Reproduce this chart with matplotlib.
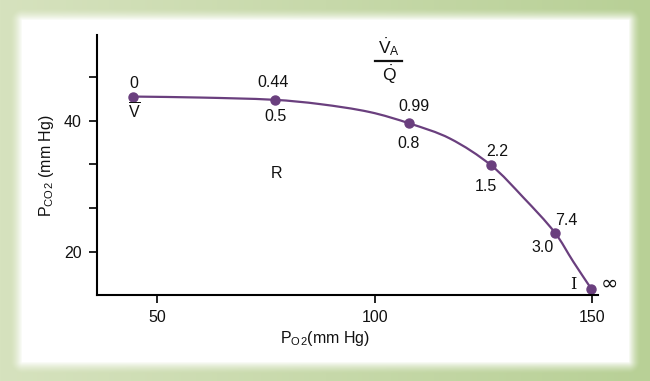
import numpy as np
import matplotlib
matplotlib.use("Agg")
import matplotlib.pyplot as plt
from matplotlib.path import Path
from matplotlib.patches import PathPatch

plt.rcParams['font.family'] = ['Liberation Sans', 'DejaVu Sans']
plt.rcParams['mathtext.fontset'] = 'custom'
plt.rcParams['mathtext.rm'] = 'Liberation Sans'
plt.rcParams['mathtext.it'] = 'Liberation Sans'

# points marqués sur la courbe (PO2, PCO2 en mm Hg)
po2 = [44.4, 77.0, 108.0, 126.8, 141.5, 149.9]
pco2 = [43.7, 43.2, 39.6, 33.2, 22.9, 14.3]
vaq_labels = ["0", "0.44", "0.99", "2.2", "7.4", "\u221e"]
r_labels = [r"$\overline{\mathrm{V}}$", "0.5", "0.8", "1.5", "3.0", "I"]

# trace de la courbe
curve_po2 = [44.4, 59.8, 77.0, 87.4, 98.9, 108.0, 117.3, 126.8, 134.2, 141.5, 145.7, 149.9]
curve_pco2 = [43.7, 43.55, 43.2, 42.55, 41.33, 39.6, 37.3, 33.2, 28.3, 22.9, 18.5, 14.3]

purple = "#6a3f7e"
ink = "#111111"

W, H = 650, 381
fig = plt.figure(figsize=(W / 100, H / 100), dpi=100)

# fond : cadre vert en dégradé + panneau blanc
bg = fig.add_axes([0, 0, 1, 1])
yy, xx = np.mgrid[0:H, 0:W]
t = xx / W
green = np.zeros((H, W, 3))
green[..., 0] = 214 - 30 * t
green[..., 1] = 226 - 18 * t
green[..., 2] = 190 - 40 * t
green /= 255
x0, x1, y0, y1 = 22, 628, 20, 361
dx = np.maximum(np.maximum(x0 - xx, xx - x1), 0)
dy = np.maximum(np.maximum(y0 - yy, yy - y1), 0)
d = np.sqrt(dx ** 2 + dy ** 2)
a = np.clip(1 - d / 12, 0, 1)[..., None] ** 1.5
img = a * 1.0 + (1 - a) * green
bg.imshow(img, aspect='auto', extent=[0, W, H, 0])
bg.set_axis_off()

ax = fig.add_axes([97 / W, 1 - 295 / H, 501 / W, 260 / H])
ax.patch.set_alpha(0)
ax.set_xlim(36.1, 151.4)
ax.set_ylim(13.4, 53.1)

# courbe lissée (Bezier) passant par les points lus
k = 1.5  # rapport d'échelle y/x à l'écran
P = np.column_stack([curve_po2, np.array(curve_pco2) * k])
n = len(P)
tang = np.zeros_like(P)
for i in range(n):
    v = P[min(i + 1, n - 1)] - P[max(i - 1, 0)]
    tang[i] = v / np.linalg.norm(v)
verts = [tuple(P[0])]
codes = [Path.MOVETO]
for i in range(n - 1):
    L = np.linalg.norm(P[i + 1] - P[i]) / 3
    verts += [tuple(P[i] + tang[i] * L), tuple(P[i + 1] - tang[i + 1] * L), tuple(P[i + 1])]
    codes += [Path.CURVE4] * 3
verts = [(vx, vy / k) for vx, vy in verts]
ax.add_patch(PathPatch(Path(verts, codes), fill=False, edgecolor=purple, lw=1.6))
ax.plot(po2, pco2, 'o', color=purple, ms=6.5)

ax.spines['top'].set_visible(False)
ax.spines['right'].set_visible(False)
ax.spines['left'].set_linewidth(1.5)
ax.spines['bottom'].set_linewidth(1.5)
ax.set_xticks([50, 100, 150])
ax.set_yticks([20, 80 / 3, 100 / 3, 40, 140 / 3])
ax.set_yticklabels(["20", "", "", "40", ""])
ax.tick_params(direction='out', length=6, width=1.3, labelsize=11.5, colors=ink, pad=5)

# étiquettes des points
top_off = [(1, 13), (-2, 17), (5, 17), (6, 14), (11, 12), (18, 5)]
bot_off = [(1, -15), (1, -17), (-1, -20), (-5, -21), (-12, -15), (-18, 5)]
for i in range(len(po2)):
    ax.annotate(vaq_labels[i], (po2[i], pco2[i]), xytext=top_off[i], textcoords='offset pixels',
                ha='center', va='center', fontsize=11.5 if i < 5 else 15, color=ink,
                family='DejaVu Sans' if i == 5 else None)
    ax.annotate(r_labels[i], (po2[i], pco2[i]), xytext=bot_off[i], textcoords='offset pixels',
                ha='center', va='center', fontsize=11.5, color=ink,
                family='DejaVu Serif' if i == 5 else None)

fig.text(276 / W, 1 - 173 / H, "R", ha='center', va='center', fontsize=11.5, color=ink)
fig.text(389 / W, 1 - 47 / H, r"$\dot{\mathrm{V}}_{\mathrm{A}}$", ha='center', va='center', fontsize=12.5, color=ink)
fig.text(389 / W, 1 - 75 / H, r"$\dot{\mathrm{Q}}$", ha='center', va='center', fontsize=12.5, color=ink)
fig.add_artist(plt.Line2D([375 / W, 402 / W], [1 - 61 / H, 1 - 61 / H], color=ink, lw=1.6))

fig.text(47 / W, 1 - 166 / H, r"P$_{\mathrm{CO}}$$_{2}$ (mm Hg)", rotation=90, ha='center', va='center',
         fontsize=11.5, color=ink)
fig.text(325 / W, 1 - 339 / H, r"P$_{\mathrm{O}}$$_{2}$(mm Hg)", ha='center', va='center',
         fontsize=11.5, color=ink)

fig.savefig("out.png", dpi=100)
